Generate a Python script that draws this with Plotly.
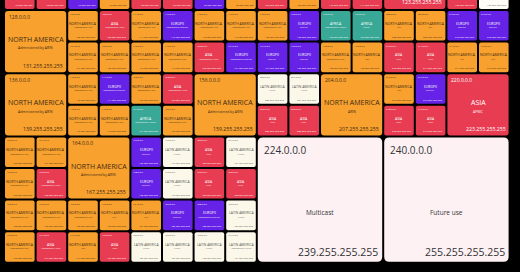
import plotly.graph_objects as go

# ---------------- data ----------------
block_start = [42, 43, 46, 47, 58, 59, 62, 63, 106, 107, 110, 111, 120, 126, 127,
               128, 132, 133, 134, 135, 136, 140, 141, 142, 143, 144, 145, 146, 147, 148, 149,
               150, 151, 152, 153, 154, 155, 156, 160, 161, 162, 163, 164, 168, 169, 170, 171,
               172, 173, 174, 175, 176, 177, 178, 179, 180, 181, 182, 183, 184, 185, 186, 187,
               188, 189, 190, 191, 192, 193, 194, 195, 196, 197, 198, 199, 200, 201, 202, 203,
               204, 208, 209, 210, 211, 212, 213, 214, 215, 216, 217, 218, 219, 220, 224, 240]
block_size = [1, 1, 1, 1, 1, 1, 1, 1, 1, 1, 1, 1, 4, 1, 1,
              4, 1, 1, 1, 1, 4, 1, 1, 1, 1, 1, 1, 1, 1, 1, 1,
              1, 1, 1, 1, 1, 1, 4, 1, 1, 1, 1, 4, 1, 1, 1, 1,
              1, 1, 1, 1, 1, 1, 1, 1, 1, 1, 1, 1, 1, 1, 1, 1,
              1, 1, 1, 1, 1, 1, 1, 1, 1, 1, 1, 1, 1, 1, 1, 1,
              4, 1, 1, 1, 1, 1, 1, 1, 1, 1, 1, 1, 1, 4, 16, 16]
block_region = ["AS", "AS", "EU", "NA", "AS", "AS", "EU", "NA", "AS", "NA", "AS", "AS", "AS", "AS", "LB",
                "NA", "NA", "AS", "NA", "NA", "NA", "NA", "EU", "NA", "NA", "NA", "EU", "NA", "NA", "NA", "NA",
                "AS", "EU", "NA", "AS", "AF", "NA", "NA", "NA", "NA", "NA", "AS", "NA", "NA", "NA", "NA", "AS",
                "NA", "NA", "NA", "AS", "EU", "LA", "EU", "LA", "AS", "LA", "AS", "AS", "NA", "EU", "LA", "LA",
                "EU", "LA", "LA", "LA", "NA", "EU", "EU", "EU", "AF", "AF", "NA", "NA", "LA", "LA", "AS", "AS",
                "NA", "NA", "NA", "AS", "AS", "EU", "EU", "NA", "NA", "NA", "EU", "AS", "AS", "AS", "MC", "FU"]
block_admin = [0, 0, 0, 0, 0, 0, 0, 0, 0, 0, 0, 0, 0, 0, 0,
               1, 1, 1, 1, 1, 1, 1, 1, 1, 1, 1, 1, 1, 1, 1, 1,
               1, 1, 1, 1, 1, 1, 1, 1, 1, 1, 1, 1, 1, 1, 1, 1,
               1, 0, 0, 0, 0, 0, 0, 0, 0, 0, 0, 0, 0, 0, 0, 0,
               1, 0, 0, 1, 1, 0, 0, 0, 1, 0, 1, 0, 0, 0, 0, 0,
               0, 0, 0, 0, 0, 0, 0, 0, 0, 0, 0, 0, 0, 0, 0, 0]

region_names = {"NA": "NORTH AMERICA", "EU": "EUROPE", "AS": "ASIA", "AF": "AFRICA",
                "LA": "LATIN AMERICA", "MC": "Multicast", "FU": "Future use", "LB": "Loopback"}
region_rir = {"NA": "ARIN", "EU": "RIPE NCC", "AS": "APNIC", "AF": "AFRINIC", "LA": "LACNIC"}
region_fill = {"NA": "#f9a12f", "EU": "#6622e6", "AS": "#e83c52", "AF": "#3aa896",
               "LA": "#fbf8ea", "MC": "#fdf1f4", "FU": "#fdf1f4", "LB": "#fdfcf6"}
region_text = {"NA": "#3a2a12", "EU": "#ffffff", "AS": "#ffffff", "AF": "#ffffff",
               "LA": "#555555", "MC": "#333333", "FU": "#333333", "LB": "#555555"}

FONT = "Open Sans"
PX = 1 / 31.6  # one pixel in grid units


def morton(i):
    r = c = 0
    for b in range(4):
        c |= ((i >> (2 * b)) & 1) << b
        r |= ((i >> (2 * b + 1)) & 1) << b
    return r, c


def rounded(x0, y0, x1, y1, rad):
    return (f"M {x0+rad},{y0} L {x1-rad},{y0} Q {x1},{y0} {x1},{y0+rad} "
            f"L {x1},{y1-rad} Q {x1},{y1} {x1-rad},{y1} L {x0+rad},{y1} "
            f"Q {x0},{y1} {x0},{y1-rad} L {x0},{y0+rad} Q {x0},{y0} {x0+rad},{y0} Z")


# style per block side (1, 2, 4 cells)
style = {
    1: dict(s_font=2.3, s_off=(2, 2), r_font=3.4, r_pos=0.42, sub_font=1.8, sub_pos=0.56,
            e_font=2.5, e_off=(2, 2), rad=2),
    2: dict(s_font=5, s_off=(4, 3), r_font=7, r_pos=0.47, sub_font=3.4, sub_pos=0.60,
            e_font=5.2, e_off=(3, 2.5), rad=3),
    4: dict(s_font=10, s_off=(6, 6), r_font=6.5, r_pos=0.60, sub_font=0, sub_pos=0,
            e_font=10.5, e_off=(4, 3), rad=5),
}

shapes = []
annotations = []
YMIN = 8 - 10 * PX
YMAX = 8 + 262 * PX

for start, size, reg, adm in zip(block_start, block_size, block_region, block_admin):
    side = int(round(size ** 0.5))
    r, c = morton(start)
    st = style[side]
    x0, y0 = c + PX, r + PX
    x1, y1 = c + side - PX, r + side - PX
    shapes.append(dict(type="path", path=rounded(x0, y0, x1, y1, st["rad"] * PX),
                       xref="x", yref="y", fillcolor=region_fill[reg],
                       line=dict(width=0), layer="below"))
    tc = region_text[reg]
    end = start + size - 1

    def add(text, x, y, fs, xa, ya):
        if YMIN <= y <= YMAX:
            annotations.append(dict(text=text, x=x, y=y, xref="x", yref="y", showarrow=False,
                                    xanchor=xa, yanchor=ya, borderpad=0,
                                    font=dict(family=FONT, size=fs, color=tc)))

    add(f"{start}.0.0.0", c + st["s_off"][0] * PX, r + st["s_off"][1] * PX, st["s_font"], "left", "top")
    add(f"{end}.255.255.255", c + side - st["e_off"][0] * PX, r + side - st["e_off"][1] * PX,
        st["e_font"], "right", "bottom")
    add(region_names[reg], c + side / 2, r + side * st["r_pos"], st["r_font"], "center", "middle")
    if reg in region_rir and st["sub_font"] > 0:
        sub = ("Administered by " if adm else "") + region_rir[reg]
        add(sub, c + side / 2, r + side * st["sub_pos"], st["sub_font"], "center", "middle")

fig = go.Figure()
fig.add_trace(go.Scatter(x=[0, 16], y=[8, 16], mode="markers", marker=dict(opacity=0),
                         hoverinfo="skip", showlegend=False))
fig.update_layout(
    width=520, height=272, margin=dict(l=0, r=0, t=0, b=0),
    paper_bgcolor="#000000", plot_bgcolor="#000000",
    shapes=shapes, annotations=annotations, showlegend=False,
    xaxis=dict(range=[-4 * PX, 16 + 10.4 * PX], visible=False, fixedrange=True),
    yaxis=dict(range=[YMAX, YMIN], visible=False, fixedrange=True),
)
fig.write_html("out.html")
